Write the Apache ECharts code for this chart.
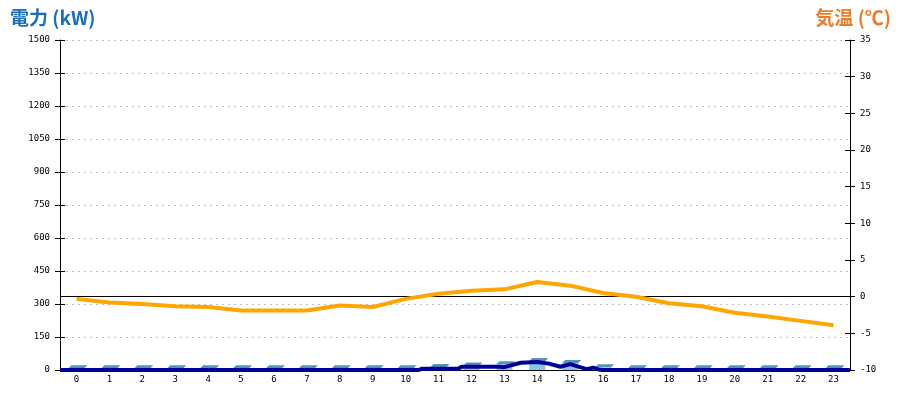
<!DOCTYPE html>
<html>
<head>
<meta charset="utf-8">
<script src="https://cdn.jsdelivr.net/npm/echarts@6/dist/echarts.min.js"></script>
<style>html,body{margin:0;padding:0;background:#fff}#c{width:900px;height:400px}</style>
</head>
<body>
<div id="c"></div>
<script>
// ---- data ----
var hours = ['0','1','2','3','4','5','6','7','8','9','10','11','12','13','14','15','16','17','18','19','20','21','22','23'];
var powerBars = [8,8,8,8,8,8,8,8,8,8,8,14,20,26,41,32,12,8,8,8,8,8,8,8];
var powerLine = [[-0.5,0],[10.4,0],[10.5,6],[11.6,6],[11.7,15],[12.85,15],[13.0,13],[13.2,21],[13.5,33],[14.0,36],[14.35,29],[14.7,15],[15.0,27],[15.3,13],[15.5,4],[15.7,11],[15.9,1],[16.0,0],[23.5,0]];
var temperature = [-0.3,-0.8,-1.0,-1.3,-1.4,-1.9,-1.9,-1.9,-1.2,-1.4,-0.3,0.4,0.8,1.0,2.0,1.5,0.5,0.0,-0.9,-1.3,-2.2,-2.7,-3.3,-3.9];
var leftTitle = '電力 (kW)';
var rightTitle = '気温 (℃)';

var chart = echarts.init(document.getElementById('c'), null, {renderer:'canvas'});
var tickFont = {fontFamily:'DejaVu Sans Mono, monospace', fontSize:9, color:'#000'};
var titleFont = "'Noto Sans CJK JP','Liberation Sans',sans-serif";

function yAx(pos, min, max, interval, inside, main) {
  return {
    type:'value', position:pos, min:min, max:max, interval:interval, offset:0,
    axisLine:{show:main, onZero:false, lineStyle:{color:'#000', width:1}},
    axisTick:{show:true, inside:inside, length:5, lineStyle:{color:'#000', width:1}},
    axisLabel:Object.assign({show:main, margin:10, formatter:function(v){return String(v);}}, tickFont),
    splitLine:{show:main && pos === 'left', lineStyle:{color:'#c0c0c0', type:[2,4], width:1}}
  };
}

chart.setOption({
  animation:false,
  title:[
    {text:leftTitle, left:5, top:3, textStyle:{color:'#1a6fba', fontSize:19, fontWeight:'bold', fontFamily:titleFont}},
    {text:rightTitle, right:4, top:3, textStyle:{color:'#ee7b27', fontSize:19, fontWeight:'bold', fontFamily:titleFont}}
  ],
  grid:{left:60, right:50, top:40, bottom:30},
  xAxis:[
    {type:'category', data:hours, boundaryGap:true,
      axisLine:{show:true, onZero:false, lineStyle:{color:'#000'}},
      axisTick:{show:false},
      axisLabel:Object.assign({margin:5, interval:0}, tickFont),
      splitLine:{show:false}},
    {type:'value', min:-0.5, max:23.5, show:false, position:'bottom'}
  ],
  yAxis:[
    yAx('left', 0, 1500, 150, false, true),
    yAx('right', -10, 35, 5, false, true),
    yAx('left', 0, 1500, 150, true, false),
    yAx('right', -10, 35, 5, true, false)
  ],
  series:[
    {type:'custom', xAxisIndex:0, yAxisIndex:0, z:2,
      data:powerBars.map(function(v,i){return [i,v];}),
      renderItem:function(params, api){
        var c = api.coord([api.value(0), api.value(1)]);
        var b = api.coord([api.value(0), 0]);
        return {type:'group', children:[
          {type:'rect', shape:{x:c[0]-8, y:c[1], width:16, height:b[1]-c[1]}, style:{fill:'#87c8e6'}},
          {type:'polygon', shape:{points:[[c[0]-8,c[1]],[c[0]+8,c[1]],[c[0]+11,c[1]-3],[c[0]-5,c[1]-3]]}, style:{fill:'#5596b4'}}
        ]};
      }},
    {type:'line', xAxisIndex:1, yAxisIndex:0, z:3, data:powerLine, showSymbol:false,
      lineStyle:{color:'#000099', width:4}, itemStyle:{color:'#000099'}},
    {type:'line', xAxisIndex:0, yAxisIndex:1, z:4, data:temperature, showSymbol:false,
      lineStyle:{color:'#ffa500', width:4}, itemStyle:{color:'#ffa500'},
      markLine:{silent:true, symbol:['none','none'], label:{show:false}, z:1,
        lineStyle:{color:'#000', width:1, type:'solid'}, data:[{yAxis:0}]}}
  ]
});
</script>
</body>
</html>
